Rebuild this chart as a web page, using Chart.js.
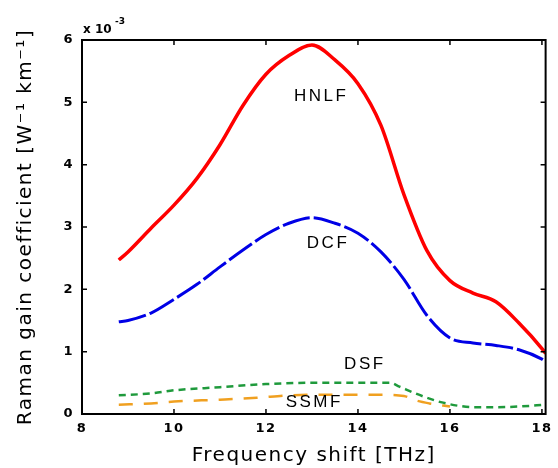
<!DOCTYPE html>
<html>
<head>
<meta charset="utf-8">
<script src="https://cdn.jsdelivr.net/npm/chart.js@4/dist/chart.umd.min.js"></script>
<style>
  html, body { margin: 0; padding: 0; background: #fff; }
  #wrap { width: 558px; height: 468px; }
</style>
</head>
<body>
<div id="wrap"><canvas id="raman-gain"></canvas></div>
<script>
// values (gain in units of 1e-3 W^-1 km^-1)
const hnlfX = [8.8, 9.0, 9.5, 10.0, 10.5, 11.0, 11.5, 12.0, 12.5, 13.0, 13.5, 14.0, 14.5, 15.0, 15.5, 16.0, 16.5, 17.0, 17.5, 18.0, 18.08];
const hnlfY = [2.47, 2.6, 2.98, 3.35, 3.78, 4.32, 4.95, 5.45, 5.75, 5.92, 5.68, 5.3, 4.63, 3.52, 2.62, 2.14, 1.94, 1.8, 1.46, 1.05, 0.97];

const dcfX = [8.8, 9.0, 9.5, 10.0, 10.5, 11.0, 11.5, 12.0, 12.5, 13.0, 13.5, 14.0, 14.5, 15.0, 15.5, 16.0, 16.5, 17.0, 17.5, 18.0, 18.08];
const dcfY = [1.48, 1.5, 1.62, 1.84, 2.08, 2.36, 2.63, 2.88, 3.06, 3.15, 3.06, 2.9, 2.6, 2.16, 1.58, 1.22, 1.14, 1.1, 1.03, 0.88, 0.84];

const dsfX = [8.8, 9.5, 10.0, 11.0, 12.0, 13.0, 14.0, 14.7, 14.9, 15.25, 15.5, 15.8, 16.2, 16.5, 17.0, 17.5, 18.08];
const dsfY = [0.3, 0.33, 0.38, 0.43, 0.48, 0.5, 0.5, 0.5, 0.44, 0.33, 0.26, 0.19, 0.13, 0.11, 0.11, 0.12, 0.15];

const ssmfX = [8.8, 9.5, 10.0, 11.0, 11.8, 12.5, 13.5, 14.5, 15.0, 15.25, 15.55, 16.0];
const ssmfY = [0.15, 0.17, 0.2, 0.23, 0.26, 0.3, 0.31, 0.31, 0.29, 0.22, 0.17, 0.12];

const xTicks = [8, 10, 12, 14, 16, 18];
const yTicks = [0, 1, 2, 3, 4, 5, 6];

// curve names and where they are written on the plot
const curveLabels = [
  { text: 'HNLF', x: 13.2, y: 5.09 },
  { text: 'DCF', x: 13.35, y: 2.74 },
  { text: 'DSF', x: 14.15, y: 0.79 },
  { text: 'SSMF', x: 13.05, y: 0.19 },
];

const pts = (xs, ys) => xs.map((x, i) => ({ x: x, y: ys[i] }));

// box round the plot, inward ticks, curve names and the x10^-3 factor
const framePlugin = {
  id: 'frame',
  beforeDraw(chart) {
    chart.ctx.letterSpacing = '1.5px';
  },
  afterDatasetsDraw(chart) {
    const { ctx, chartArea: a, scales } = chart;
    ctx.save();
    ctx.strokeStyle = '#000';
    ctx.lineWidth = 2;
    ctx.strokeRect(a.left, a.top, a.right - a.left, a.bottom - a.top);
    ctx.lineWidth = 1.5;
    ctx.beginPath();
    xTicks.forEach((v) => {
      const px = scales.x.getPixelForValue(v);
      ctx.moveTo(px, a.bottom); ctx.lineTo(px, a.bottom - 5);
      ctx.moveTo(px, a.top); ctx.lineTo(px, a.top + 5);
    });
    yTicks.forEach((v) => {
      const py = scales.y.getPixelForValue(v);
      ctx.moveTo(a.left, py); ctx.lineTo(a.left + 5, py);
      ctx.moveTo(a.right, py); ctx.lineTo(a.right - 5, py);
    });
    ctx.stroke();

    ctx.fillStyle = '#000';
    ctx.font = '17px "Liberation Sans", Arial, sans-serif';
    ctx.letterSpacing = '2.5px';
    ctx.textAlign = 'center';
    ctx.textBaseline = 'middle';
    curveLabels.forEach((l) => {
      ctx.fillText(l.text, scales.x.getPixelForValue(l.x), scales.y.getPixelForValue(l.y));
    });

    ctx.letterSpacing = '0px';
    ctx.textAlign = 'left';
    ctx.textBaseline = 'alphabetic';
    ctx.font = 'bold 12px "DejaVu Sans", sans-serif';
    ctx.fillText('x 10', a.left + 1, a.top - 7);
    ctx.font = 'bold 9px "DejaVu Sans", sans-serif';
    ctx.fillText('-3', a.left + 33, a.top - 16);
    ctx.restore();
  },
  afterDraw(chart) {
    chart.ctx.letterSpacing = '0px';
  }
};

window.addEventListener('load', function() {
  const ctx = document.getElementById('raman-gain').getContext('2d');
  new Chart(ctx, {
    type: 'line',
    data: {
      datasets: [
        { label: 'HNLF', data: pts(hnlfX, hnlfY), borderColor: '#ff0000', borderWidth: 3.5 },
        { label: 'DCF', data: pts(dcfX, dcfY), borderColor: '#0000e6', borderWidth: 3, borderDash: [28, 4] },
        { label: 'DSF', data: pts(dsfX, dsfY), borderColor: '#1f9a3c', borderWidth: 2.5, borderDash: [7, 5] },
        { label: 'SSMF', data: pts(ssmfX, ssmfY), borderColor: '#f0a020', borderWidth: 2.5, borderDash: [14, 11] },
      ].map((d) => Object.assign(d, { fill: false, pointRadius: 0, tension: 0.35, cubicInterpolationMode: 'monotone' })),
    },
    options: {
      responsive: true,
      maintainAspectRatio: false,
      animation: false,
      layout: { padding: { top: 40, right: 3, left: 14, bottom: 0 } },
      plugins: {
        legend: { display: false },
        tooltip: { enabled: false },
      },
      scales: {
        x: {
          type: 'linear',
          min: 8,
          max: 18.08,
          afterFit: (s) => { s.height = 54; },
          afterBuildTicks: (s) => { s.ticks = xTicks.map((v) => ({ value: v })); },
          grid: { display: false, drawTicks: false },
          border: { display: false },
          ticks: { padding: 7, color: '#000', font: { family: 'DejaVu Sans', size: 13, weight: 'bold' } },
          title: {
            display: true,
            text: 'Frequency shift [THz]',
            color: '#000',
            padding: { top: 0, bottom: 0 },
            font: { family: 'DejaVu Sans', size: 20 },
          },
        },
        y: {
          type: 'linear',
          min: 0,
          max: 6,
          afterFit: (s) => { s.width = 68; },
          afterBuildTicks: (s) => { s.ticks = yTicks.map((v) => ({ value: v })); },
          grid: { display: false, drawTicks: false },
          border: { display: false },
          ticks: { padding: 8, color: '#000', font: { family: 'DejaVu Sans', size: 13, weight: 'bold' } },
          title: {
            display: true,
            text: 'Raman gain coefficient [W\u207B\u00B9 km\u207B\u00B9]',
            color: '#000',
            padding: { top: 0, bottom: 4 },
            font: { family: 'DejaVu Sans', size: 20 },
          },
        },
      },
    },
    plugins: [framePlugin],
  });
});
</script>
</body>
</html>
